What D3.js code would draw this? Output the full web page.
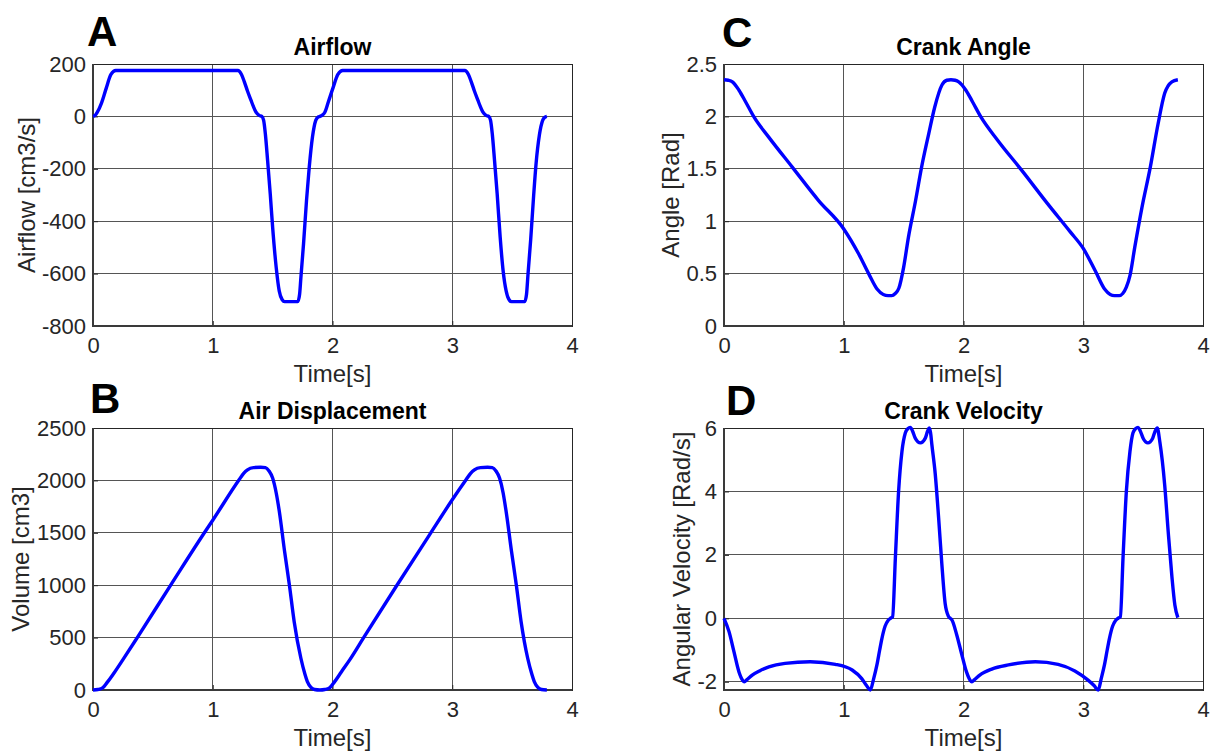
<!DOCTYPE html>
<html>
<head>
<meta charset="utf-8">
<script src="https://cdnjs.cloudflare.com/ajax/libs/d3/7.8.5/d3.min.js"></script>
<style>
  body { margin: 0; background: #ffffff; }
  svg { display: block; font-family: "Liberation Sans", Arial, Helvetica, sans-serif; }
</style>
</head>
<body>
<div id="grafico"></div>
<script>
/*************************** DATA ***************************/
var timeTicks = [0, 1, 2, 3, 4];
var airflowTicks = [-800, -600, -400, -200, 0, 200];
var volumeTicks = [0, 500, 1000, 1500, 2000, 2500];
var angleTicks = [0, 0.5, 1, 1.5, 2, 2.5];
var velocityTicks = [-2, 0, 2, 4, 6];

// [time s, airflow cm3/s]
var airflow = [
  [0, 0], [0.02, 5], [0.035, 15], [0.07, 50], [0.11, 107], [0.15, 160], [0.19, 175], [0.22, 175],
  [0.6, 175], [1.0, 175], [1.21, 175], [1.24, 160], [1.264, 132], [1.29, 97], [1.319, 62],
  [1.34, 37], [1.36, 17], [1.39, 3], [1.41, 0], [1.425, -15], [1.44, -70], [1.458, -168],
  [1.48, -295], [1.50, -423], [1.53, -577], [1.555, -666], [1.58, -700], [1.60, -707],
  [1.71, -707], [1.725, -680], [1.736, -615], [1.758, -487], [1.783, -321], [1.806, -193],
  [1.833, -78], [1.86, -15], [1.88, -2], [1.895, 0], [1.915, 5], [1.935, 15], [1.965, 55],
  [2.005, 110], [2.045, 160], [2.085, 175], [2.12, 175], [2.5, 175], [2.9, 175], [3.105, 175],
  [3.135, 160], [3.159, 132], [3.185, 97], [3.214, 62], [3.235, 37], [3.255, 17], [3.285, 3],
  [3.305, 0], [3.32, -15], [3.335, -70], [3.353, -168], [3.375, -295], [3.40, -460],
  [3.425, -590], [3.45, -666], [3.475, -700], [3.495, -707], [3.605, -707], [3.62, -680],
  [3.633, -600], [3.655, -470], [3.68, -300], [3.70, -180], [3.728, -70], [3.755, -15],
  [3.775, -3], [3.79, 0]
];

// [time s, volume cm3]
var volume = [
  [0, 0], [0.04, 5], [0.08, 20], [0.12, 75], [0.18, 170], [0.25, 290], [0.375, 510],
  [0.65, 1003], [0.93, 1500], [1.0, 1620], [1.22, 2006], [1.26, 2070], [1.29, 2101],
  [1.34, 2122], [1.40, 2125], [1.44, 2122], [1.47, 2090], [1.50, 2022], [1.53, 1880],
  [1.556, 1703], [1.60, 1321], [1.64, 1003], [1.68, 652], [1.736, 303], [1.77, 150],
  [1.79, 80], [1.82, 25], [1.85, 5], [1.895, 0], [1.935, 5], [1.975, 20], [2.015, 75],
  [2.075, 175], [2.145, 290], [2.26, 500], [2.53, 985], [2.81, 1480], [3.0, 1815],
  [3.115, 2006], [3.155, 2070], [3.185, 2101], [3.235, 2122], [3.295, 2125], [3.335, 2122],
  [3.365, 2090], [3.395, 2022], [3.425, 1880], [3.45, 1703], [3.495, 1321], [3.535, 1003],
  [3.575, 652], [3.63, 303], [3.665, 150], [3.685, 80], [3.715, 25], [3.745, 5], [3.79, 0]
];

// [time s, crank angle rad]
var angle = [
  [0, 2.35], [0.035, 2.345], [0.07, 2.33], [0.125, 2.25], [0.18, 2.14], [0.25, 1.995],
  [0.375, 1.80], [0.57, 1.516], [0.79, 1.197], [1.0, 0.926], [1.125, 0.687], [1.21, 0.495],
  [1.28, 0.35], [1.33, 0.30], [1.37, 0.29], [1.40, 0.29], [1.43, 0.31], [1.46, 0.36],
  [1.50, 0.56], [1.54, 0.846], [1.60, 1.197], [1.65, 1.516], [1.71, 1.836], [1.76, 2.09],
  [1.82, 2.30], [1.86, 2.345], [1.895, 2.35], [1.93, 2.345], [1.96, 2.33], [2.02, 2.25],
  [2.075, 2.14], [2.145, 1.995], [2.28, 1.78], [2.49, 1.48], [2.70, 1.17], [2.89, 0.90],
  [3.0, 0.74], [3.10, 0.527], [3.18, 0.35], [3.225, 0.30], [3.26, 0.29], [3.30, 0.29],
  [3.33, 0.31], [3.36, 0.37], [3.39, 0.48], [3.43, 0.75], [3.49, 1.13], [3.56, 1.516],
  [3.625, 1.93], [3.68, 2.22], [3.74, 2.33], [3.79, 2.35]
];

// [time s, angular velocity rad/s]
var velocity = [
  [0, 0], [0.042, -0.42], [0.083, -1.05], [0.125, -1.69], [0.155, -1.95], [0.17, -2.0],
  [0.19, -1.94], [0.236, -1.79], [0.30, -1.65], [0.375, -1.53], [0.51, -1.42], [0.72, -1.37],
  [0.93, -1.45], [1.07, -1.63], [1.15, -1.90], [1.19, -2.12], [1.222, -2.26], [1.25, -1.9],
  [1.277, -1.47], [1.30, -1.0], [1.319, -0.63], [1.345, -0.25], [1.37, -0.07], [1.39, 0.0],
  [1.408, 0.05], [1.431, 1.9], [1.458, 4.0], [1.486, 5.26], [1.514, 5.84], [1.535, 5.98],
  [1.556, 6.02], [1.575, 5.9], [1.597, 5.68], [1.64, 5.53], [1.681, 5.68], [1.70, 5.9],
  [1.714, 6.0], [1.725, 5.85], [1.736, 5.47], [1.764, 4.55], [1.792, 3.18], [1.819, 1.72],
  [1.847, 0.46], [1.875, 0.06], [1.89, 0.0], [1.903, -0.05], [1.942, -0.5], [1.983, -1.1],
  [2.025, -1.69], [2.055, -1.95], [2.07, -2.0], [2.09, -1.94], [2.136, -1.79], [2.236, -1.6],
  [2.375, -1.47], [2.6, -1.37], [2.79, -1.45], [2.93, -1.66], [3.04, -1.95], [3.09, -2.12],
  [3.125, -2.26], [3.15, -1.9], [3.177, -1.47], [3.20, -1.0], [3.219, -0.63], [3.245, -0.25],
  [3.27, -0.07], [3.29, 0.0], [3.31, 0.05], [3.332, 1.9], [3.36, 4.0], [3.39, 5.26],
  [3.415, 5.84], [3.437, 5.98], [3.458, 6.02], [3.477, 5.9], [3.5, 5.68], [3.54, 5.53],
  [3.58, 5.68], [3.60, 5.9], [3.618, 6.0], [3.64, 5.55], [3.68, 4.21], [3.71, 2.7],
  [3.74, 1.33], [3.765, 0.42], [3.79, 0.02]
];

/*************************** LAYOUT ***************************/
var azul = '#0000ff';
var corTexto = '#262626';
var corGrade = '#555555';
var larguraPlot = 479;
var alturaPlot = 262;

var paineis = [
  { letra: 'A', titulo: 'Airflow', rotulo: 'Airflow [cm3/s]', dados: airflow, dominio: [-800, 200],
    ticks: airflowTicks, esq: 93, topo: 64, rotuloX: 35, letraX: 87, letraY: 46 },
  { letra: 'B', titulo: 'Air Displacement', rotulo: 'Volume [cm3]', dados: volume, dominio: [0, 2500],
    ticks: volumeTicks, esq: 93, topo: 428, rotuloX: 29, letraX: 90, letraY: 413 },
  { letra: 'C', titulo: 'Crank Angle', rotulo: 'Angle [Rad]', dados: angle, dominio: [0, 2.5],
    ticks: angleTicks, esq: 724, topo: 64, rotuloX: 679, letraX: 722, letraY: 47 },
  { letra: 'D', titulo: 'Crank Velocity', rotulo: 'Angular Velocity [Rad/s]', dados: velocity, dominio: [-2.26, 6],
    ticks: velocityTicks, esq: 724, topo: 428, rotuloX: 690, letraX: 726, letraY: 415 }
];

var svg = d3.select('#grafico')
  .append('svg')
  .attr('width', 1214)
  .attr('height', 751);

paineis.forEach(function(p) { desenhaPainel(svg, p); });

/*************************** FUNCTIONS ***************************/
function desenhaPainel(svg, p) {
  var base = p.topo + alturaPlot;
  var x = d3.scaleLinear().domain([0, 4]).range([p.esq, p.esq + larguraPlot]);
  var y = d3.scaleLinear().domain(p.dominio).range([base, p.topo]);
  var g = svg.append('g');

  g.append('rect')                                  // plot background
    .attr('x', p.esq).attr('y', p.topo)
    .attr('width', larguraPlot).attr('height', alturaPlot)
    .attr('fill', '#ffffff');

  g.append('g').selectAll('line')                   // vertical grid
    .data(timeTicks)
    .enter()
    .append('line')
    .attr('x1', function(d) { return x(d); })
    .attr('x2', function(d) { return x(d); })
    .attr('y1', p.topo)
    .attr('y2', base)
    .attr('stroke', corGrade)
    .attr('stroke-width', 1)
    .attr('shape-rendering', 'crispEdges');

  g.append('g').selectAll('line')                   // horizontal grid
    .data(p.ticks)
    .enter()
    .append('line')
    .attr('x1', p.esq)
    .attr('x2', p.esq + larguraPlot)
    .attr('y1', function(d) { return y(d); })
    .attr('y2', function(d) { return y(d); })
    .attr('stroke', corGrade)
    .attr('stroke-width', 1)
    .attr('shape-rendering', 'crispEdges');

  var eixoX = g.append('g')
    .attr('transform', 'translate(0,' + base + ')')
    .call(d3.axisBottom(x).tickValues(timeTicks).tickSize(-5).tickPadding(11)
      .tickFormat(function(d) { return String(d); }));

  var eixoY = g.append('g')
    .attr('transform', 'translate(' + p.esq + ',0)')
    .call(d3.axisLeft(y).tickValues(p.ticks).tickSize(-5).tickPadding(7)
      .tickFormat(function(d) { return String(d); }));

  [eixoX, eixoY].forEach(function(e) {
    e.attr('font-size', 22).attr('font-family', null);
    e.select('.domain').remove();
    e.selectAll('line').attr('stroke', corTexto);
    e.selectAll('text').attr('fill', corTexto);
  });

  g.append('rect')                                  // box
    .attr('x', p.esq).attr('y', p.topo)
    .attr('width', larguraPlot).attr('height', alturaPlot)
    .attr('fill', 'none')
    .attr('stroke', corTexto)
    .attr('stroke-width', 1)
    .attr('shape-rendering', 'crispEdges');

  g.append('path')                                  // bottom and left axis lines
    .attr('d', 'M' + p.esq + ',' + p.topo + 'V' + base + 'H' + (p.esq + larguraPlot))
    .attr('fill', 'none')
    .attr('stroke', '#3a3a3a')
    .attr('stroke-width', 2);

  var linha = d3.line()
    .x(function(d) { return x(d[0]); })
    .y(function(d) { return y(d[1]); })
    .curve(d3.curveMonotoneX);

  g.append('path')                                  // data curve
    .datum(p.dados)
    .attr('d', linha)
    .attr('fill', 'none')
    .attr('stroke', azul)
    .attr('stroke-width', 3.4)
    .attr('stroke-linejoin', 'round');

  g.append('text')                                  // title
    .text(p.titulo)
    .attr('x', p.esq + larguraPlot / 2)
    .attr('y', p.topo - 9)
    .attr('text-anchor', 'middle')
    .attr('font-size', 23)
    .attr('font-weight', 'bold')
    .attr('fill', '#000000');

  g.append('text')                                  // x label
    .text('Time[s]')
    .attr('x', p.esq + larguraPlot / 2)
    .attr('y', base + 56)
    .attr('text-anchor', 'middle')
    .attr('font-size', 24)
    .attr('fill', corTexto);

  g.append('text')                                  // y label
    .text(p.rotulo)
    .attr('transform', 'translate(' + p.rotuloX + ',' + (p.topo + alturaPlot / 2) + ') rotate(-90)')
    .attr('text-anchor', 'middle')
    .attr('font-size', 24)
    .attr('fill', corTexto);

  g.append('text')                                  // panel letter
    .text(p.letra)
    .attr('x', p.letraX)
    .attr('y', p.letraY)
    .attr('font-size', 42)
    .attr('font-weight', 'bold')
    .attr('fill', '#000000');
}
</script>
</body>
</html>
